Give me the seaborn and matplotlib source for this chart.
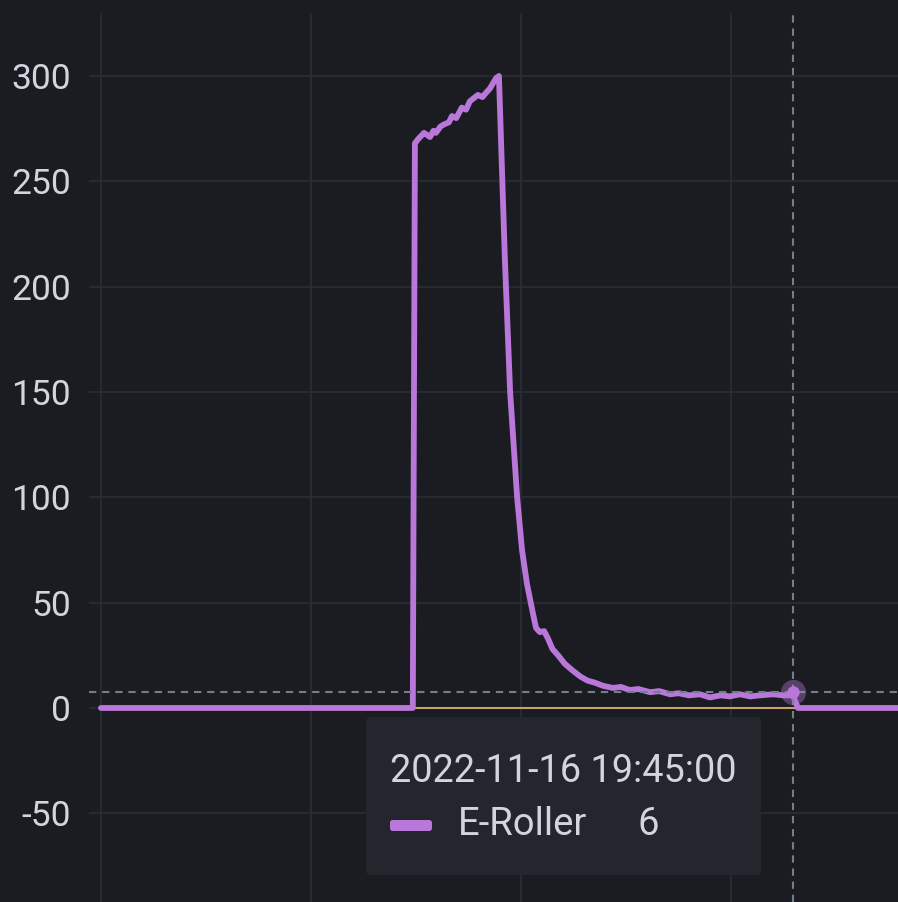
import matplotlib
matplotlib.use("Agg")
import matplotlib.pyplot as plt
from matplotlib.patches import FancyBboxPatch
import pandas as pd
import seaborn as sns

# --- data: power draw of the e-scooter charger (minutes since window start) ---
minutes = [0.0, 89.1, 89.7, 90.6, 92.3, 93.2, 94.0, 95.0, 95.7, 97.0, 98.0,
           99.4, 100.3, 101.5, 103.1, 104.3, 105.4, 107.7, 109.0, 110.0, 111.1,
           112.9, 113.7, 115.4, 116.9, 118.9, 120.3, 121.7, 123.4, 124.3, 125.4,
           126.6, 127.7, 129.0, 130.6, 132.5, 134.6, 136.9, 139.0, 141.1, 143.5,
           146.3, 148.5, 151.1, 153.5, 156.9, 159.5, 162.6, 165.0, 168.0, 171.1,
           174.0, 177.0, 179.7, 182.5, 185.5, 188.3, 192.0, 195.0, 197.7, 199.1,
           227.7]
watts = [0, 0, 268, 270, 273, 272, 271, 274, 273, 276, 277,
         278, 281, 280, 285, 284, 288, 291, 290, 292, 294,
         299, 300, 213, 150, 100, 75, 59, 45, 38, 36,
         36.5, 33, 28, 25, 21, 18, 15, 13, 12, 10.5,
         9.5, 10, 8.5, 9, 7.5, 8, 6.5, 7, 6, 6.5,
         5, 6, 5.5, 6.5, 5.5, 6, 6.5, 6, 6, 0,
         0]
series_name = "E-Roller"
hover_time = 197.7
hover_value = 6
hover_label = "2022-11-16 19:45:00"
y_ticks = [-50, 0, 50, 100, 150, 200, 250, 300]
x_grid = [0, 60, 120, 180]

BG = "#1a1c21"
PURPLE = "#b877d9"
TEXT = "#d2d4de"
GRID = "#2a2d34"
CROSS = "#6f808c"

W, H = 898, 902

df = pd.DataFrame({"minute": minutes, "watt": watts, "series": series_name})

sns.set_theme(style="dark")
plt.rcParams["font.family"] = ["Roboto", "DejaVu Sans"]
plt.rcParams["axes.unicode_minus"] = False

fig = plt.figure(figsize=(W / 100, H / 100), dpi=100, facecolor=BG)
ax = fig.add_axes([89 / W, 0, 1 - 89 / W, 1 - 13 / H])
ax.set_facecolor(BG)

# thin second series sitting on zero
ax.plot([minutes[0], minutes[-1]], [0, 0], color="#c9a26b", lw=1.5, zorder=2)

sns.lineplot(data=df, x="minute", y="watt", color=PURPLE, lw=4.2,
             legend=False, ax=ax, zorder=3, solid_joinstyle="round",
             solid_capstyle="round")

ax.set_xlim(-3.4, 227.7)
ax.set_ylim(-92.1, 329.9)
ax.set_yticks(y_ticks)
ax.set_xticks(x_grid)
ax.set_xticklabels([])
ax.grid(True, color=GRID, lw=1.2)
ax.set_axisbelow(True)
ax.tick_params(axis="y", labelsize=25.5, labelcolor=TEXT, length=0, pad=13)
ax.tick_params(axis="x", length=0)
ax.set_xlabel("")
ax.set_ylabel("")
for s in ax.spines.values():
    s.set_visible(False)

# crosshair + hover marker
ax.axvline(hover_time, color=CROSS, lw=1.5, ls=(0, (3.5, 2.8)), zorder=4)
ax.axhline(7.5, color=CROSS, lw=1.5, ls=(0, (3.5, 2.8)), zorder=4)
ax.scatter([hover_time], [7.5], s=330, color=PURPLE, alpha=0.4, lw=0, zorder=5)
ax.scatter([hover_time], [7.5], s=80, color=PURPLE, lw=0, zorder=6)

# tooltip box
box = FancyBboxPatch((366 / W, 1 - 875 / H), (761 - 366) / W, (875 - 717) / H,
                     boxstyle="round,pad=0,rounding_size=0.006",
                     transform=fig.transFigure, facecolor="#23262d",
                     edgecolor="none", zorder=10)
fig.add_artist(box)
fig.text(390 / W, 1 - 782 / H, hover_label, fontsize=27.3, color=TEXT,
         va="baseline", ha="left", zorder=11)
swatch = FancyBboxPatch((390 / W, 1 - 831 / H), 42 / W, 11 / H,
                        boxstyle="round,pad=0,rounding_size=0.003",
                        transform=fig.transFigure, facecolor=PURPLE,
                        edgecolor="none", zorder=11)
fig.add_artist(swatch)
fig.text(458 / W, 1 - 835 / H, series_name, fontsize=27.5, color=TEXT,
         va="baseline", ha="left", zorder=11)
fig.text(637 / W, 1 - 835 / H, str(hover_value), fontsize=27.5, color=TEXT,
         va="baseline", ha="left", zorder=11)

fig.savefig("out.png", dpi=100, facecolor=BG)
